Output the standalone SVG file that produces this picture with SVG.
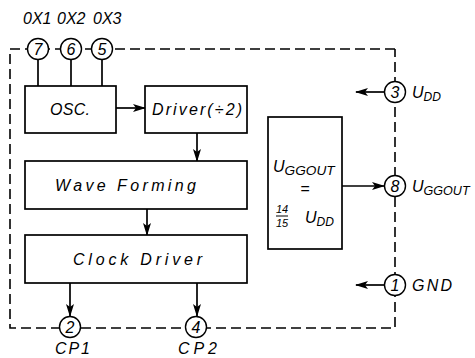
<svg xmlns="http://www.w3.org/2000/svg" width="475" height="358" viewBox="0 0 475 358">
<style>
text{font-family:"Liberation Sans",Arial,sans-serif;font-style:italic;fill:#000}
.lbl{font-size:16px}
.pin{font-size:16px;text-anchor:middle}
.box{fill:#fff;stroke:#000;stroke-width:1.7}
.ln{fill:none;stroke:#000;stroke-width:1.7}
.dash{fill:none;stroke:#000;stroke-width:1.6;stroke-dasharray:10 5}
.pc{fill:#fff;stroke:#000;stroke-width:1.4}
.sub{font-size:12px}
</style>
<defs>
<marker id="ah" markerUnits="userSpaceOnUse" markerWidth="13" markerHeight="8" refX="12" refY="4" orient="auto">
<path d="M0,0 L13,4 L0,8 L3,4 Z" fill="#000"/>
</marker>
</defs>
<g id="boundary">
<path class="dash" d="M395,49 L10,49 L10,328 L395,328 L395,49"/>
</g>
<g id="connectors">
<line class="ln" x1="38" y1="60" x2="38" y2="86"/>
<line class="ln" x1="71" y1="60" x2="71" y2="86"/>
<line class="ln" x1="102" y1="60" x2="102" y2="86"/>
<line class="ln" x1="116" y1="108" x2="145" y2="108" marker-end="url(#ah)"/>
<line class="ln" x1="197" y1="133" x2="197" y2="161" marker-end="url(#ah)"/>
<line class="ln" x1="147" y1="209" x2="147" y2="235" marker-end="url(#ah)"/>
<line class="ln" x1="70" y1="283" x2="70" y2="316" marker-end="url(#ah)"/>
<line class="ln" x1="197" y1="283" x2="197" y2="316" marker-end="url(#ah)"/>
<line class="ln" x1="342" y1="186" x2="384" y2="186" marker-end="url(#ah)"/>
<line class="ln" x1="384" y1="92" x2="356" y2="92" marker-end="url(#ah)"/>
<line class="ln" x1="384" y1="285" x2="356" y2="285" marker-end="url(#ah)"/>
</g>
<g id="osc">
<rect class="box" x="25" y="86" width="91" height="47"/>
<text class="lbl" x="50" y="115" textLength="40" lengthAdjust="spacing">OSC.</text>
</g>
<g id="driver">
<rect class="box" x="145" y="86" width="102" height="47"/>
<text class="lbl" x="152" y="115" textLength="90" lengthAdjust="spacing">Driver(÷2)</text>
</g>
<g id="wave">
<rect class="box" x="25" y="161" width="222" height="48"/>
<text class="lbl" x="55" y="191" textLength="141" lengthAdjust="spacing">Wave Forming</text>
</g>
<g id="clock">
<rect class="box" x="25" y="235" width="222" height="48"/>
<text class="lbl" x="73" y="265" textLength="129" lengthAdjust="spacing">Clock Driver</text>
</g>
<g id="ugg">
<rect class="box" x="268" y="117" width="74" height="132"/>
<text class="lbl" x="273" y="172">U<tspan class="sub" dy="3" textLength="50" lengthAdjust="spacingAndGlyphs">GGOUT</tspan></text>
<text class="lbl" x="305" y="194" text-anchor="middle">=</text>
<text x="282" y="213" style="font-size:11px" text-anchor="middle">14</text>
<line x1="276" y1="216" x2="288" y2="216" stroke="#000" stroke-width="1"/>
<text x="282" y="227" style="font-size:11px" text-anchor="middle">15</text>
<text class="lbl" x="305" y="223">U<tspan class="sub" dy="3">DD</tspan></text>
</g>
<g id="pin7"><circle class="pc" cx="38" cy="49" r="10.5"/><text class="pin" x="38" y="55">7</text></g>
<g id="pin6"><circle class="pc" cx="71" cy="49" r="10.5"/><text class="pin" x="71" y="55">6</text></g>
<g id="pin5"><circle class="pc" cx="102" cy="49" r="10.5"/><text class="pin" x="102" y="55">5</text></g>
<text class="lbl" x="23" y="24">0X1</text>
<text class="lbl" x="57" y="24">0X2</text>
<text class="lbl" x="93" y="24">0X3</text>
<g id="pin3"><circle class="pc" cx="395" cy="92" r="10.5"/><text class="pin" x="395" y="98">3</text></g>
<text class="lbl" x="412" y="98">U<tspan class="sub" dy="3">DD</tspan></text>
<g id="pin8"><circle class="pc" cx="395" cy="186" r="10.5"/><text class="pin" x="395" y="192">8</text></g>
<text class="lbl" x="412" y="192">U<tspan class="sub" dy="3" textLength="46" lengthAdjust="spacingAndGlyphs">GGOUT</tspan></text>
<g id="pin1"><circle class="pc" cx="395" cy="285" r="10.5"/><text class="pin" x="395" y="291">1</text></g>
<text class="lbl" x="412" y="291" textLength="40" lengthAdjust="spacing">GND</text>
<g id="pin2"><circle class="pc" cx="70" cy="327" r="10.5"/><text class="pin" x="70" y="333">2</text></g>
<text class="lbl" x="55" y="354" textLength="35" lengthAdjust="spacing">CP1</text>
<g id="pin4"><circle class="pc" cx="196" cy="327" r="10.5"/><text class="pin" x="196" y="333">4</text></g>
<text class="lbl" x="178" y="354" textLength="39" lengthAdjust="spacing">CP2</text>
</svg>
